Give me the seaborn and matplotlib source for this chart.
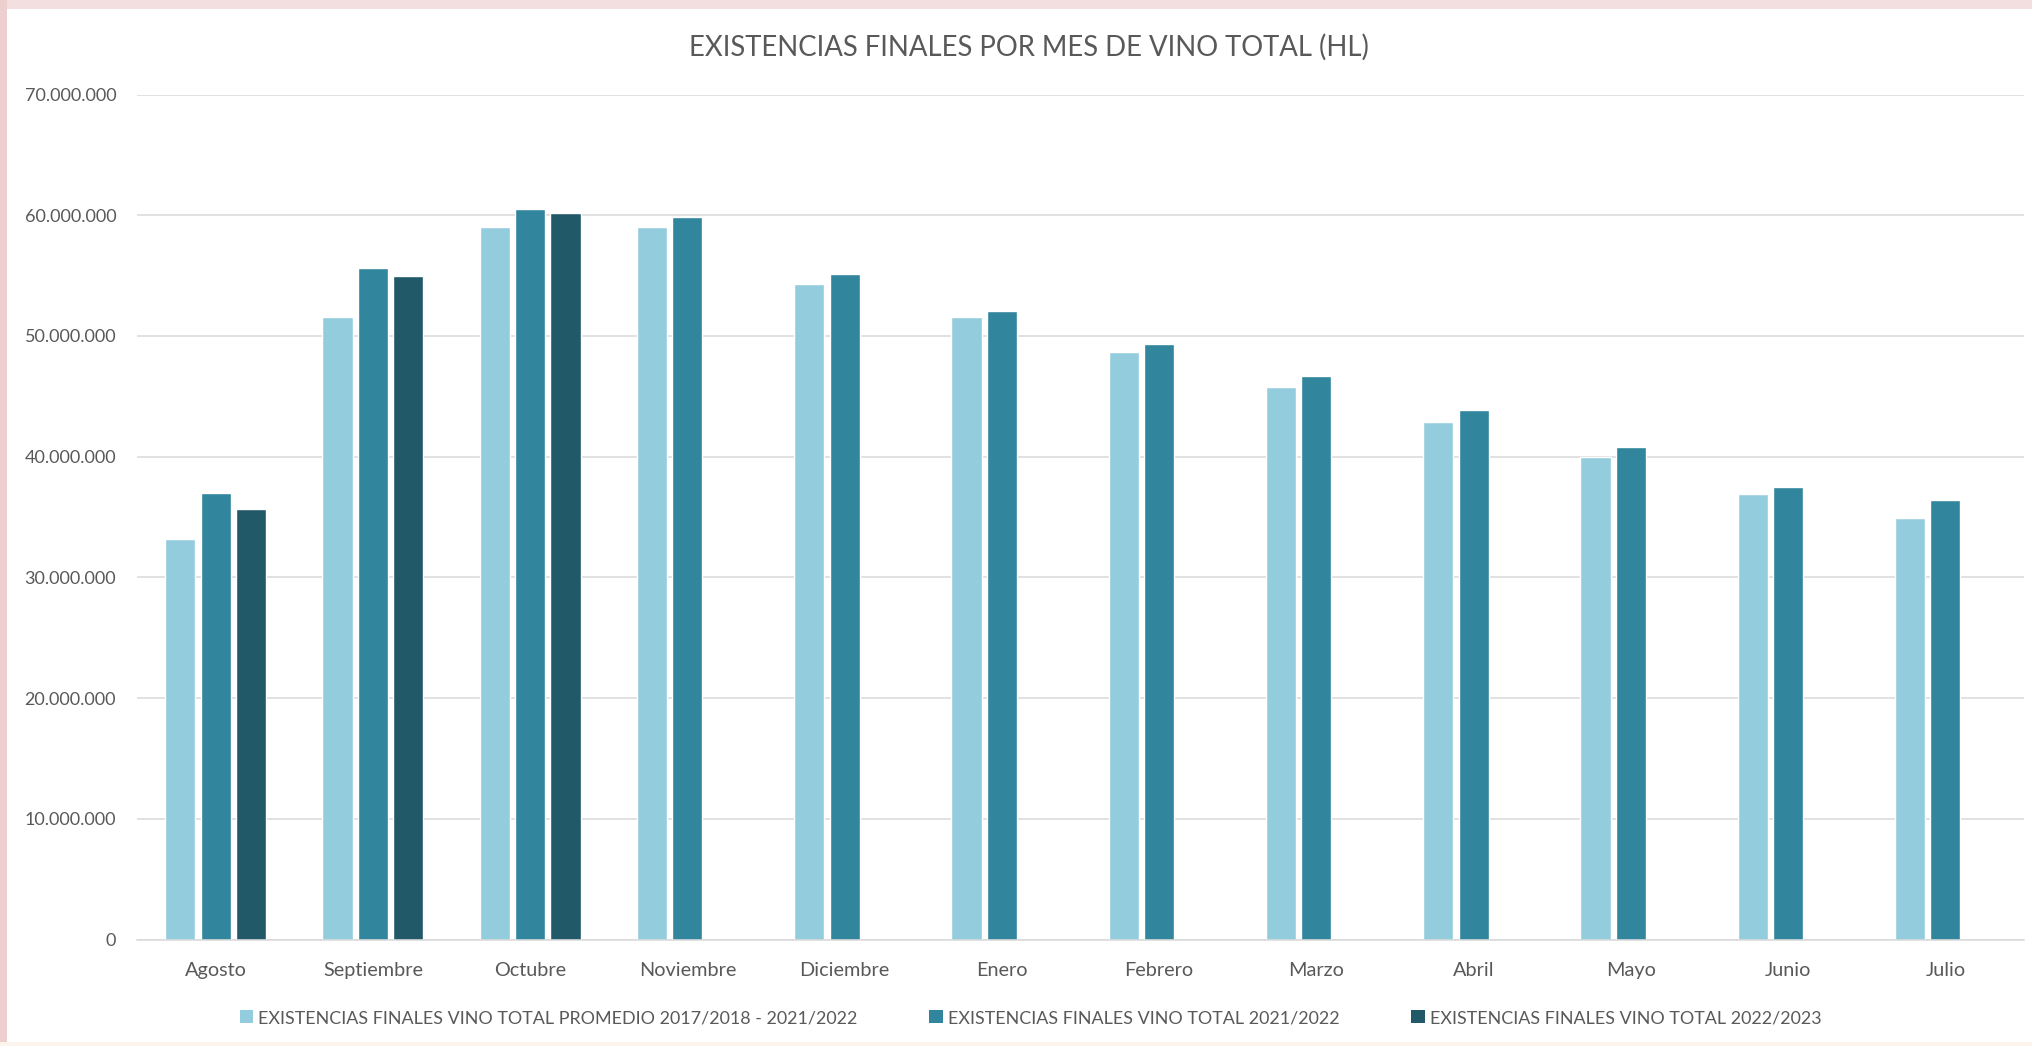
import numpy as np
import pandas as pd
import seaborn as sns
import matplotlib.pyplot as plt
from matplotlib.patches import Rectangle

meses = ["Agosto", "Septiembre", "Octubre", "Noviembre", "Diciembre", "Enero",
         "Febrero", "Marzo", "Abril", "Mayo", "Junio", "Julio"]

series = ["EXISTENCIAS FINALES VINO TOTAL PROMEDIO 2017/2018 - 2021/2022",
          "EXISTENCIAS FINALES VINO TOTAL 2021/2022",
          "EXISTENCIAS FINALES VINO TOTAL 2022/2023"]

promedio = [33.2, 51.6, 59.0, 59.0, 54.3, 51.6, 48.7, 45.8, 42.9, 40.0, 36.9, 34.9]
v_2122 = [37.0, 55.6, 60.5, 59.9, 55.1, 52.1, 49.3, 46.7, 43.9, 40.8, 37.5, 36.4]
v_2223 = [35.7, 55.0, 60.2]  # solo hasta octubre

colores = ["#93CDDD", "#31859C", "#215968"]

rows = []
for vals, s in zip([promedio, v_2122, v_2223], series):
    for m, v in zip(meses, vals):
        rows.append({"Mes": m, "Serie": s, "HL": v * 1e6})
df = pd.DataFrame(rows)

sns.set_style("white")
plt.rcParams['font.family'] = ['Lato', 'DejaVu Sans']
gris = "#595959"

fig = plt.figure(figsize=(20.33, 10.46), dpi=100, facecolor="white")

# bordes de la captura
fig.patches.append(Rectangle((0, 1 - 9 / 1046), 1, 9 / 1046, transform=fig.transFigure,
                             facecolor="#F3DFDF", edgecolor="none", zorder=0))
fig.patches.append(Rectangle((0, 0), 7 / 2033, 1, transform=fig.transFigure,
                             facecolor="#EDCFD0", edgecolor="none", zorder=0))
fig.patches.append(Rectangle((0, 0), 1, 4 / 1046, transform=fig.transFigure,
                             facecolor="#FDF4EE", edgecolor="none", zorder=0))

ax = fig.add_axes([137 / 2033, 1 - 939.5 / 1046, (2024 - 137) / 2033, (939.5 - 94.6) / 1046])

sns.barplot(data=df, x="Mes", y="HL", hue="Serie", order=meses, hue_order=series,
            palette=colores, width=0.675, gap=0.15, saturation=1, errorbar=None,
            legend=False, ax=ax)

ax.set_ylim(0, 70e6)
ax.set_xlim(-0.5, 11.5)
ax.set_yticks(np.arange(0, 70e6 + 1, 10e6))
ax.set_yticklabels([f"{int(v):,}".replace(",", ".") for v in ax.get_yticks()])
ax.yaxis.grid(True, color="#D9D9D9", linewidth=1.1)
ax.set_axisbelow(True)
for sp in ["top", "right", "left"]:
    ax.spines[sp].set_visible(False)
ax.spines["bottom"].set_color("#D9D9D9")
ax.spines["bottom"].set_linewidth(1.1)
ax.tick_params(axis="both", length=0, labelcolor=gris)
ax.tick_params(axis="y", pad=15, labelsize=13)
ax.tick_params(axis="x", pad=16, labelsize=14.3)
ax.set_xlabel("")
ax.set_ylabel("")

fig.text(0.506, 1 - 47 / 1046, "EXISTENCIAS FINALES POR MES DE VINO TOTAL (HL)",
         ha="center", va="center", fontsize=19.8, color=gris)

handles = [Rectangle((0, 0), 1, 1, facecolor=c, edgecolor="none") for c in colores]
fig.legend(handles, series, loc="center", bbox_to_anchor=(0.507, 1 - 1018 / 1046), ncol=3,
           frameon=False, fontsize=12.9, labelcolor=gris, handlelength=0.75, handleheight=0.75,
           handletextpad=0.3, columnspacing=4.0)

fig.savefig("out.png", dpi=100, facecolor=fig.get_facecolor())
